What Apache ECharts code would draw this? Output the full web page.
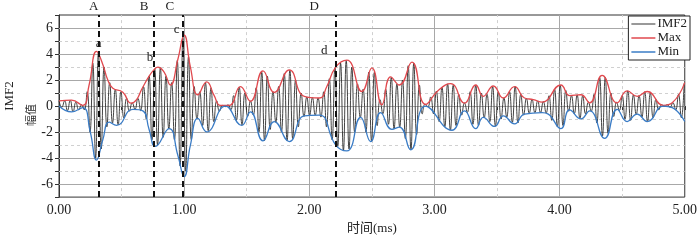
<!DOCTYPE html>
<html><head><meta charset="utf-8">
<script src="https://cdn.jsdelivr.net/npm/echarts@6/dist/echarts.min.js"></script>
<style>html,body{margin:0;padding:0;background:#fff}#c{width:700px;height:240px}</style>
</head><body><div id="c"></div>
<script>
// ---- data ----
const STEP = 0.0225; // ms between successive extrema of IMF2
const imf2Extrema = [
 0.4,-0.1,0.4,-0.35,0.45,-0.45,0.3,-0.3,0.1,-0.3,
 1.1,-2.0,3.3,-4.0,4.1,-3.3,3.0,-1.6,1.8,-1.3,
 1.3,-1.45,1.1,-0.9,0.6,-0.4,0.25,-0.25,0.6,-0.35,
 1.5,-1.0,2.3,-2.6,2.85,-3.0,2.95,-2.4,2.3,-1.75,
 1.8,-2.6,3.5,-4.6,5.3,-5.0,3.8,-2.6,1.5,-1.0,
 1.1,-1.5,1.8,-1.9,1.4,-1.2,0.4,-0.4,0.05,-0.05,
 0.1,-0.3,0.8,-1.1,1.45,-1.45,1.0,-0.8,0.4,-0.7,
 1.4,-2.0,2.6,-2.65,2.3,-1.8,1.1,-1.25,1.5,-2.0,
 2.5,-2.65,2.75,-2.5,2.0,-1.6,1.0,-0.8,0.7,-0.72,
 0.65,-0.7,0.62,-0.85,1.1,-1.6,2.1,-2.6,2.95,-3.1,
 3.3,-3.45,3.5,-3.3,3.0,-2.0,1.7,-0.9,1.3,-2.0,
 2.6,-2.7,2.6,-1.5,0.5,-0.6,1.3,-1.4,2.2,-1.75,
 1.7,-1.62,2.0,-2.5,3.1,-3.35,3.3,-2.2,1.6,-0.6,
 0.15,-0.05,0.7,-0.6,1.15,-1.2,1.45,-1.6,1.7,-1.85,
 1.6,-1.5,0.9,-0.7,0.25,-0.5,1.1,-1.4,1.6,-1.5,
 1.0,-0.9,0.9,-1.2,1.5,-1.55,1.1,-1.0,0.62,-0.85,
 1.1,-1.25,1.5,-1.3,0.9,-0.7,0.6,-0.55,0.5,-0.5,
 0.4,-0.5,0.35,-0.55,0.8,-1.1,1.3,-1.6,1.6,-1.5,
 1.2,-0.4,0.8,-0.6,0.85,-0.97,0.8,-0.6,0.3,-0.4,
 0.9,-1.3,2.2,-2.3,2.2,-2.1,1.0,-0.8,0.3,-0.35,
 0.8,-1.0,1.17,-1.1,0.85,-0.65,0.8,-0.85,1.1,-1.19,
 1.0,-0.9,0.5,-0.3,0.1,-0.02,0.1,-0.1,0.25,-0.3,
 0.9,-0.9,1.75
];
const maxEnvT = [0,0.10,0.19,0.24,0.30,0.35,0.39,0.43,0.51,0.575,0.62,0.66,0.72,0.76,0.79,0.84,0.89,0.95,1.00,1.05,1.11,1.18,1.24,1.29,1.36,1.45,1.53,1.63,1.72,1.84,1.96,2.08,2.14,2.21,2.30,2.42,2.50,2.58,2.65,2.72,2.82,2.93,3.03,3.13,3.24,3.33,3.39,3.47,3.55,3.64,3.72,3.79,3.86,4.01,4.08,4.17,4.24,4.34,4.46,4.54,4.62,4.70,4.83,4.90,5.00];
const maxEnvV = [0.40,0.45,0.05,1.6,4.20,3.2,2.0,1.37,1.07,0.22,0.5,1.27,2.3,2.8,3.0,2.6,1.62,3.6,5.45,3.0,0.87,1.86,0.8,0.05,0.05,1.49,0.37,2.7,1.04,2.78,0.75,0.62,1.5,2.98,3.53,1.12,2.93,0.1,2.24,1.62,3.38,0.12,1.2,1.72,0.22,1.62,0.75,1.54,0.62,1.49,0.62,0.5,0.3,1.62,0.8,0.87,0.25,2.36,0.25,1.17,0.75,1.12,0.05,0.25,1.8];
const minEnvT = [0,0.10,0.19,0.25,0.30,0.35,0.40,0.46,0.59,0.67,0.72,0.77,0.88,0.95,1.00,1.05,1.11,1.18,1.33,1.46,1.53,1.63,1.72,1.84,1.96,2.08,2.21,2.30,2.41,2.49,2.57,2.66,2.72,2.81,2.93,3.14,3.24,3.33,3.39,3.48,3.55,3.64,3.72,3.86,3.91,4.01,4.08,4.17,4.24,4.36,4.46,4.54,4.62,4.70,4.83,4.90,5.00];
const minEnvV = [0.0,-0.45,-0.12,-2.0,-4.15,-2.6,-1.24,-1.49,-0.25,-0.37,-1.8,-3.1,-1.74,-3.8,-5.42,-3.0,-0.95,-1.99,0.0,-1.49,-0.45,-2.68,-1.19,-2.73,-0.75,-0.7,-2.98,-3.45,-0.87,-2.73,-0.5,-1.79,-1.62,-3.36,0.0,-1.86,-0.37,-1.74,-0.87,-1.57,-0.75,-1.37,-0.62,-0.5,-0.62,-1.74,-0.3,-0.99,-0.37,-2.49,-0.25,-1.19,-0.62,-1.19,0.0,-0.12,-1.19];

const markerNames = ['A','B','C','D'];
const markerT = [0.32, 0.76, 0.99, 2.21];
const markerLabelT = [0.277, 0.68, 0.886, 2.04];
const peakNames = ['a','b','c','d'];
const peakT = [0.316, 0.727, 0.94, 2.12];
const peakV = [4.84, 3.73, 5.89, 4.27];

const xTickVals = [0,1,2,3,4,5];
const xTickLabels = ['0.00','1.00','2.00','3.00','4.00','5.00'];
const yTickVals = [-6,-4,-2,0,2,4,6];
const yTickLabels = ['-6','-4','-2','0','2','4','6'];
const xMajorGrid = [1,2,3,4];
const xMinorGrid = [0.5,1.5,2.5,3.5,4.5];
const yMajorGrid = [-6,-4,-2,0,2,4,6];
const yMinorGrid = [-5,-3,-1,1,3,5];

// ---- chart ----
const SERIF = "'Liberation Serif','Times New Roman','Noto Sans CJK SC',serif";
const chart = echarts.init(document.getElementById('c'), null, {renderer:'canvas'});
const zip = (a,b)=>a.map((t,i)=>[t,b[i]]);
const majorStyle = {color:'#a8a8a8', width:1, type:'solid'};
const minorStyle = {color:'#d0d0d0', width:1, type:[3,3]};

const gridLines = []
 .concat(xMajorGrid.map(v=>({xAxis:v, lineStyle:majorStyle})))
 .concat(xMinorGrid.map(v=>({xAxis:v, lineStyle:minorStyle})))
 .concat(yMajorGrid.map(v=>({yAxis:v, lineStyle:majorStyle})))
 .concat(yMinorGrid.map(v=>({yAxis:v, lineStyle:minorStyle})));

const option = {
 animation:false,
 backgroundColor:'#fff',
 grid:{left:59, right:9, top:15, bottom:36, show:true, borderColor:'#333', borderWidth:1, backgroundColor:'transparent'},
 legend:{
  data:['IMF2','Max','Min'], orient:'vertical', right:10, top:16,
  icon:'rect', itemWidth:24, itemHeight:1.5, itemGap:0,
  backgroundColor:'#fff', borderColor:'#222', borderWidth:1, borderRadius:0,
  padding:[1,3,1,3],
  textStyle:{fontFamily:SERIF, fontSize:13, color:'#222', lineHeight:14, padding:[0,0,0,-3]}
 },
 xAxis:{
  type:'value', min:0, max:5, interval:0.5,
  axisLine:{show:true, lineStyle:{color:'#333'}},
  axisTick:{show:true, length:4, lineStyle:{color:'#333'}},
  splitLine:{show:false},
  axisLabel:{fontFamily:SERIF, fontSize:14, color:'#222', margin:6,
   formatter:v=>{const i=xTickVals.indexOf(v); return i>=0?xTickLabels[i]:'';}},
  name:'时间(ms)', nameLocation:'middle', nameGap:18,
  nameTextStyle:{fontFamily:SERIF, fontSize:13, color:'#222'}
 },
 yAxis:{
  type:'value', min:-7, max:7, interval:1,
  axisLine:{show:true, lineStyle:{color:'#333'}},
  axisTick:{show:true, length:4, lineStyle:{color:'#333'}},
  splitLine:{show:false},
  axisLabel:{fontFamily:SERIF, fontSize:14, color:'#222', margin:6,
   formatter:v=>{const i=yTickVals.indexOf(v); return i>=0?yTickLabels[i]:'';}}
 },
 graphic:[
  {type:'text', x:10, y:96, rotation:Math.PI/2,
   style:{text:'IMF2', fontFamily:SERIF, fontSize:13, fill:'#222', textAlign:'center', textVerticalAlign:'middle'}},
  {type:'text', x:31, y:115, rotation:Math.PI/2,
   style:{text:'幅值', fontFamily:"'Noto Sans CJK SC',sans-serif", fontSize:11, fill:'#222', textAlign:'center', textVerticalAlign:'middle'}}
 ],
 series:[
  {name:'grid', type:'line', data:[[0,0]], symbol:'none', lineStyle:{opacity:0}, z:1, silent:true,
   markLine:{silent:true, symbol:['none','none'], label:{show:false}, z:1, data:gridLines, animation:false}},
  {name:'IMF2', type:'line', data:imf2Extrema.map((v,i)=>[i*STEP, v]), symbol:'none', smooth:0.5,
   lineStyle:{color:'#2e2e2e', width:0.9}, itemStyle:{color:'#777'}, z:2},
  {name:'Max', type:'line', data:zip(maxEnvT,maxEnvV), symbol:'none', smooth:0.5,
   lineStyle:{color:'#e0494e', width:1.3}, itemStyle:{color:'#e0494e'}, z:3},
  {name:'Min', type:'line', data:zip(minEnvT,minEnvV), symbol:'none', smooth:0.5,
   lineStyle:{color:'#3a7cc6', width:1.3}, itemStyle:{color:'#3a7cc6'}, z:3},
  {name:'markers', type:'line', data:[[0,0]], symbol:'none', lineStyle:{opacity:0}, z:5, silent:true,
   markLine:{silent:true, symbol:['none','none'], z:5,
    lineStyle:{color:'#111', width:2, type:[6,4]}, label:{show:false},
    data:markerT.map(t=>({xAxis:t}))},
   markPoint:{silent:true, symbol:'circle', symbolSize:1, itemStyle:{color:'rgba(0,0,0,0)'}, z:6,
    label:{show:true, position:'inside', color:'#222', fontFamily:SERIF, fontSize:13, formatter:p=>p.name},
    data:markerNames.map((n,i)=>({name:n, coord:[markerLabelT[i], 7], label:{offset:[0,-8]}}))
     .concat(peakNames.map((n,i)=>({name:n, coord:[peakT[i], peakV[i]]})))}
  }
 ]
};
chart.setOption(option);
</script></body></html>
